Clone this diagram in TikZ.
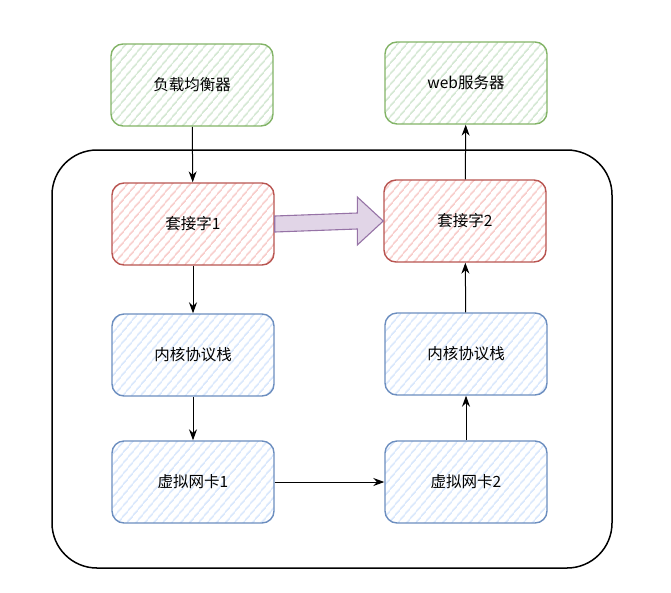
\documentclass[tikz,border=0pt]{standalone}
\usepackage{fontspec}
\newfontfamily\cjk{Noto Sans CJK SC}
\usetikzlibrary{arrows.meta, patterns.meta, calc}

\definecolor{greenfill}{HTML}{D5E8D4}
\definecolor{greenline}{HTML}{82B366}
\definecolor{redfill}{HTML}{F8CECC}
\definecolor{redline}{HTML}{B85450}
\definecolor{bluefill}{HTML}{DAE8FC}
\definecolor{blueline}{HTML}{6C8EBF}
\definecolor{purplefill}{HTML}{E1D5E7}
\definecolor{purpleline}{HTML}{9673A6}

\tikzset{
  box/.style={rounded corners=12pt, minimum width=162pt, minimum height=82pt,
    line width=1.4pt, font=\cjk\fontsize{15.5}{18}\selectfont,
    pattern={Lines[angle=50,distance=6.5pt,line width=1.7pt]}},
  greenbox/.style={box, draw=greenline, pattern color=greenfill},
  redbox/.style={box, draw=redline, pattern color=redfill},
  bluebox/.style={box, draw=blueline, pattern color=bluefill},
  link/.style={line width=1pt, -{Stealth[length=11pt,width=8pt]}}
}

\begin{document}
\begin{tikzpicture}[x=1pt, y=-1pt]
    \useasboundingbox (0,0) rectangle (671,592);

    % Host frame
    \draw[line width=1.5pt, rounded corners=45pt] (52,150) rectangle (612,568);

    % Left column
    \node[greenbox] (lb) at (192,85) {负载均衡器};
    \node[redbox] (sock1) at (193,224) {套接字1};
    \node[bluebox] (kern1) at (193,355) {内核协议栈};
    \node[bluebox] (nic1) at (193,482) {虚拟网卡1};

    % Right column
    \node[greenbox] (web) at (466,83) {web服务器};
    \node[redbox] (sock2) at (465,221) {套接字2};
    \node[bluebox] (kern2) at (466,354) {内核协议栈};
    \node[bluebox] (nic2) at (466,482) {虚拟网卡2};

    % Packet path
    \draw[link] (lb) -- (sock1);
    \draw[link] (sock1) -- (kern1);
    \draw[link] (kern1) -- (nic1);
    \draw[link] (nic1) -- (nic2);
    \draw[link] (nic2) -- (kern2);
    \draw[link] (kern2) -- (sock2);
    \draw[link] (sock2) -- (web);

    % Socket to socket shortcut
    \draw[line width=1.1pt, draw=purpleline, fill=purplefill, line join=miter]
      ($(sock1.east)+(0,-8)$) -- ($(sock2.west)+(-26,-8)$) -- ($(sock2.west)+(-26,-24)$)
      -- (sock2.west) -- ($(sock2.west)+(-26,24)$) -- ($(sock2.west)+(-26,8)$)
      -- ($(sock1.east)+(0,8)$) -- cycle;
\end{tikzpicture}
\end{document}
